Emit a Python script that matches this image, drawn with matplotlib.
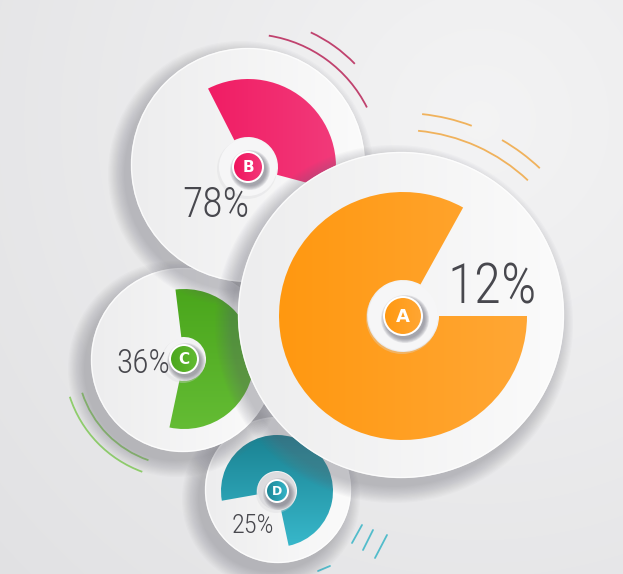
import numpy as np
import matplotlib
matplotlib.use("Agg")
import matplotlib.pyplot as plt
from matplotlib.patches import Circle, Wedge, Arc
from matplotlib.colors import LinearSegmentedColormap

# ---------------- data ----------------
labels = ["A", "B", "C", "D"]
percents = [12, 78, 36, 25]
sector_start = [61, -15, -102, -78]    # degrees, counter-clockwise from east
sector_end = [360, 117, 97, 190]
color_a = ["#ff9810", "#f0125c", "#4aa61c", "#1a8292"]
color_b = ["#ffa735", "#f23a7a", "#64bc34", "#38b8cb"]

# ---------------- layout ----------------
W, H = 623, 574
disk_xy = [(401, 315), (248, 165), (183, 360), (278, 490)]
disk_r = [163, 117, 92, 73]
ring_xy = [(403, 316), (248, 167), (184, 359), (277, 491)]
ring_out = [124, 88, 70, 56]
ring_in = [36, 30, 22, 20]
ring_col = ["#f6f6f7", "#f6f6f7", "#f3f3f4", "#dcdcdf"]
marker_r = [20, 16, 15, 12]
marker_fs = [13, 11, 11, 9]
text_xy = [(447, 303), (249, 217), (170, 373), (274, 533)]
text_ha = ["left", "right", "right", "right"]
text_fs = [40, 30, 24, 19]
grad_dir = ["h", "h", "v", "v"]
draw_order = [3, 2, 1, 0]

fig = plt.figure(figsize=(W / 100, H / 100), dpi=100)
ax = fig.add_axes([0, 0, 1, 1])
ax.set_xlim(0, W)
ax.set_ylim(0, H)
ax.set_aspect("equal")
ax.axis("off")


def P(x, y):
    return (x, H - y)


# background gradient
yy, xx = np.mgrid[0:H, 0:W]
d = np.sqrt((xx - 480) ** 2 + (yy - 120) ** 2) / 650.0
d = np.clip(d, 0, 1)
c0 = np.array([0.955, 0.955, 0.958])
c1 = np.array([0.885, 0.885, 0.893])
bg = c0[None, None, :] * (1 - d[..., None]) + c1[None, None, :] * d[..., None]
ax.imshow(bg, extent=(0, W, 0, H), origin="upper", zorder=0, interpolation="bilinear")

z = [1.0]


def nz():
    z[0] += 0.01
    return z[0]


def grad_fill(patch, ca, cb, direction="h", bbox=None):
    ax.add_patch(patch)
    patch.set_facecolor("none")
    patch.set_edgecolor("none")
    x0, y0, x1, y1 = bbox
    cmap = LinearSegmentedColormap.from_list("g", [ca, cb])
    if direction == "h":
        arr = np.linspace(0, 1, 256)[None, :]
    else:
        arr = np.linspace(0, 1, 256)[:, None]  # top row -> ca
    im = ax.imshow(arr, cmap=cmap, extent=(x0, x1, y0, y1), origin="upper",
                   aspect="auto", zorder=nz(), interpolation="bilinear")
    im.set_clip_path(patch)


def soft_shadow(cx, cy, r, dx, dy, spread, alpha, n=14):
    for i in range(n):
        t = i / (n - 1)
        rr = r + spread * (1 - t)
        ax.add_patch(Circle((cx + dx, cy + dy), rr, facecolor="#6d6d78",
                            edgecolor="none", alpha=alpha / n * 1.6, zorder=nz()))


# decorative arcs
deco = [
    (1, 133, 26.6, 81, "#c0426e"),
    (1, 148.5, 44, 65, "#c0426e"),
    (0, 185, 46.7, 84.7, "#f0b25c"),
    (0, 202, 69.5, 84, "#f0b25c"),
    (0, 202, 46.6, 60, "#f0b25c"),
    (2, 106, 198, 251, "#8fcd6c"),
    (2, 119, 198, 250, "#8fcd6c"),
]
for k, r, a1, a2, col in deco:
    cx, cy = P(*ring_xy[k]) if k == 1 else P(*disk_xy[k])
    ax.add_patch(Arc((cx, cy), 2 * r, 2 * r, theta1=a1, theta2=a2, color=col,
                     lw=1.3, zorder=0.5))
for (x1, y1, x2, y2) in [(362, 525, 352, 543), (373, 530, 363, 550),
                         (387, 535, 375, 558), (318, 571, 330, 566)]:
    ax.plot([x1, x2], [H - y1, H - y2], color="#52bccb", lw=1.3,
            solid_capstyle="round", zorder=0.5)

for i in draw_order:
    dx, dy = P(*disk_xy[i])
    R = disk_r[i]
    # disk shadow
    soft_shadow(dx, dy, R, -7, -9, 16, 0.27)
    # disk
    grad_fill(Circle((dx, dy), R), "#ededee", "#fbfbfb", "h",
              bbox=(dx - R, dy - R, dx + R, dy + R))
    ax.add_patch(Circle((dx, dy), R - 0.5, facecolor="none", edgecolor="#ffffff",
                        lw=1.0, alpha=0.8, zorder=nz()))
    # sector
    rx, ry = P(*ring_xy[i])
    ro, ri = ring_out[i], ring_in[i]
    w = Wedge((rx, ry), ro, sector_start[i], sector_end[i], width=ro - ri)
    grad_fill(w, color_a[i], color_b[i], grad_dir[i],
              bbox=(rx - ro, ry - ro, rx + ro, ry + ro))
    # inner ring with subtle shadow
    ax.add_patch(Circle((rx - 1, ry - 2), ri, facecolor="#d9d9dc", edgecolor="none",
                        alpha=0.35, zorder=nz()))
    ax.add_patch(Circle((rx, ry), ri - 1, facecolor=ring_col[i], edgecolor="none",
                        zorder=nz()))
    # marker
    mr = marker_r[i]
    soft_shadow(rx + 2, ry - 3, mr, 0, 0, 4, 0.5, n=6)
    ax.add_patch(Circle((rx, ry), mr, facecolor="#ffffff", edgecolor="none",
                        zorder=nz()))
    grad_fill(Circle((rx, ry), mr - 2), color_a[i], color_b[i], "h",
              bbox=(rx - mr, ry - mr, rx + mr, ry + mr))
    ax.text(rx, ry - 0.5, labels[i], color="white", fontsize=marker_fs[i],
            fontweight="bold", ha="center", va="center", family="DejaVu Sans",
            zorder=nz())
    # percentage text
    tx, ty = P(*text_xy[i])
    ax.text(tx, ty, f"{percents[i]}%", fontsize=text_fs[i], color="#48484e",
            family=["Roboto Condensed", "DejaVu Sans"], fontweight=300,
            ha=text_ha[i], va="baseline", zorder=nz())

fig.savefig("out.png", dpi=100)
